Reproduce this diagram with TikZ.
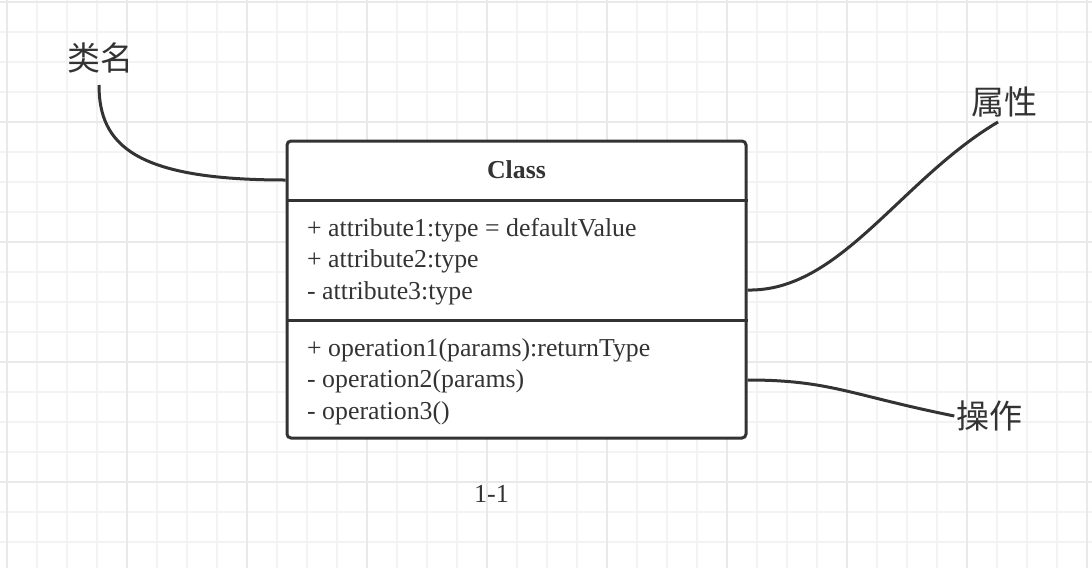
\documentclass[tikz,border=0pt]{standalone}
\usepackage{fontspec}
\setmainfont{Liberation Serif}
\newfontfamily\cjk{Noto Sans CJK SC}
\usetikzlibrary{positioning}
\definecolor{ink}{HTML}{333333}
\definecolor{gridfine}{HTML}{F3F3F3}
\definecolor{gridbold}{HTML}{E9E9E9}
\tikzset{
    ClassBox/.style = {draw=ink, line width=3pt, rounded corners=4pt, fill=white, inner sep=0pt}
}
\tikzset{
    Edge/.style = {draw=ink, line width=3pt}
}
\tikzset{
    Member/.style = {anchor=base west, inner sep=0pt, text=ink, font=\fontsize{25.8}{28}\selectfont}
}
\tikzset{
    Tag/.style = {inner sep=0pt, text=ink, font=\cjk\fontsize{33}{36}\selectfont}
}

\begin{document}
\begin{tikzpicture}[x=1pt, y=-1pt]
\useasboundingbox (0,0) rectangle (1092,568);
\fill[white] (0,0) rectangle (1092,568);
% grid
\foreach \gx in {7,37,...,1092} \draw[gridfine, line width=2pt] (\gx,0) -- (\gx,568);
\foreach \gy in {2,32,...,568} \draw[gridfine, line width=2pt] (0,\gy) -- (1092,\gy);
\foreach \gx in {7,127,...,1092} \draw[gridbold, line width=2pt] (\gx,0) -- (\gx,568);
\foreach \gy in {2,122,...,568} \draw[gridbold, line width=2pt] (0,\gy) -- (1092,\gy);
% class box
\node[ClassBox, minimum width=459pt, minimum height=297pt] at (516.5,289.5) (cls) {};
\path (cls.west |- 0,200) edge [Edge] (cls.east |- 0,200);
\path (cls.west |- 0,320) edge [Edge] (cls.east |- 0,320);
\node[anchor=base, inner sep=0pt, text=ink, font=\bfseries\fontsize{25.8}{28}\selectfont] at (516.5,178) (name) {Class};
\node[Member] at (307,236) (a1) {+ attribute1:type = defaultValue};
\node[Member] at (307,267.5) (a2) {+ attribute2:type};
\node[Member] at (307,299) (a3) {- attribute3:type};
\node[Member] at (307,356) (o1) {+ operation1(params):returnType};
\node[Member] at (307,387.5) (o2) {- operation2(params)};
\node[Member] at (307,419) (o3) {- operation3()};
% labels
\node[Tag] at (100.5,58) (tname) {类名};
\node[Tag] at (1004.5,102) (tattr) {属性};
\node[Tag] at (989.5,416) (toper) {操作};
\node[inner sep=0pt, text=ink, font=\fontsize{26}{28}\selectfont] at (491.5,494) (fig) {1-1};
% connectors
\coordinate (pname) at (cls.west |- 0,180);
\coordinate (pattr) at (cls.east |- 0,290);
\coordinate (poper) at (cls.east |- 0,380);
\draw[Edge] (99,85) .. controls (99,145) and (135,180) .. (pname);
\draw[Edge] (pattr) .. controls (840,292) and (900,180) .. (998,122);
\draw[Edge] (poper) .. controls (830,380) and (850,395) .. ([xshift=-2pt]toper.west);
\end{tikzpicture}
\end{document}
